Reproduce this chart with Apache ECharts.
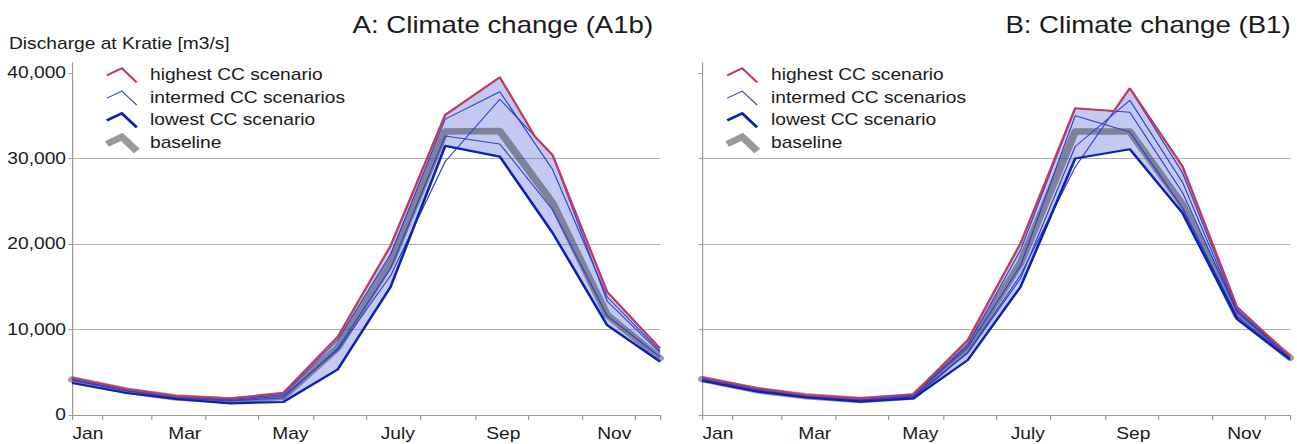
<!DOCTYPE html>
<html>
<head>
<meta charset="utf-8">
<script src="https://cdn.jsdelivr.net/npm/echarts@6/dist/echarts.min.js"></script>
<style>
html,body{margin:0;padding:0;background:#fff;overflow:hidden;}
#c{width:1081px;height:444px;transform:scaleX(1.2);transform-origin:0 0;}
</style>
</head>
<body>
<div id="c"></div>
<script>
// ---------- data ----------
const months = ['Jan','Feb','Mar','Apr','May','Jun','Jul','Aug','Sep','Oct','Nov','Dec'];
const midMonthDay = [14,45,73,104,134,165,195,226,257,287,318,348];   // day of year of each monthly value
const xTickDays = [14,31,59,90,120,151,181,212,243,273,304,334,348];  // month boundaries
const xLabelNames = ['Jan','Mar','May','July','Sep','Nov'];
const xLabelDays = [23,78,138,199,259,322];
const yTicks = [0,10000,20000,30000,40000];

// Panel A: Climate change (A1b)
const aHighest   = [4370,3040,2220,1950,2600,9160,19800,35100,39500,30400,14400,7800];
const aHighestCrossing = [277,32560];
const aIntermed1 = [4200,2900,2100,1800,2400,8800,18800,34600,37800,28700,13800,7500];
const aIntermed2 = [4050,2800,2000,1650,2000,7800,17200,32640,31700,24000,11600,6800];
const aIntermed3 = [4100,2850,2050,1700,2200,7600,16300,29640,36930,30400,13300,7300];
const aLowest    = [3740,2570,1870,1370,1520,5340,15000,31470,30220,21300,10500,6240];
const aBaseline  = [4150,2850,2050,1700,2140,7900,17800,33150,33200,24800,11700,6630];

// Panel B: Climate change (B1)
const bHighest   = [4410,3150,2340,1950,2420,8770,20100,35880,38220,29050,12600,6900];
const bHighestCrossing = [248,35560];
const bIntermed1 = [4300,3050,2250,1850,2300,8200,19300,35880,35400,26000,12000,6700];
const bIntermed2 = [4200,2950,2200,1750,2150,7300,16400,29000,38220,28300,12300,6800];
const bIntermed3 = [4250,3000,2200,1800,2250,7900,17500,35000,33100,24200,11500,6600];
const bIntermed4 = [4150,2900,2150,1700,2100,7250,16000,31400,36800,27200,12100,6750];
const bLowest    = [4010,2750,2070,1560,1950,6430,15000,30000,31080,23600,11200,6500];
const bBaseline  = [4200,2900,2200,1750,2150,7900,17800,33150,33150,24600,11600,6700];

const titles = ['A: Climate change (A1b)','B: Climate change (B1)'];
const yName = 'Discharge at Kratie [m3/s]';
const names = ['highest CC scenario','intermed CC scenarios','lowest CC scenario','baseline'];

// ---------- styles ----------
const FONT = "'Liberation Sans', Arial, sans-serif";
const RED = '#c43a5e', THIN = '#2e40cc', LOW = '#0b22b0';
const BASE = 'rgba(60,60,70,0.5)', FILL = 'rgba(84,101,212,0.35)';
const AX = '#9a9a9a', GRIDC = '#b2b2b2', TXT = '#1a1a1a';

function toPts(vals){ return vals.map((v,i)=>[midMonthDay[i], v]); }
function withCrossing(vals, cross){ return toPts(vals).concat([cross]).sort((a,b)=>a[0]-b[0]); }

function chevron(t){
  const h=t/2, A=[0,7], B=[12.5,0], C=[25,14];
  const nrm=(p,q)=>{const dx=q[0]-p[0],dy=q[1]-p[1],l=Math.hypot(dx,dy);return [-dy/l,dx/l];};
  const n1=nrm(A,B), n2=nrm(B,C);
  let m=[n1[0]+n2[0],n1[1]+n2[1]]; const ml=Math.hypot(m[0],m[1]); m=[m[0]/ml,m[1]/ml];
  const mh=h/(n1[0]*m[0]+n1[1]*m[1]);
  const pts=[[A[0]-h*n1[0],A[1]-h*n1[1]],[B[0]-mh*m[0],B[1]-mh*m[1]],[C[0]-h*n2[0],C[1]-h*n2[1]],
             [C[0]+h*n2[0],C[1]+h*n2[1]],[B[0]+mh*m[0],B[1]+mh*m[1]],[A[0]+h*n1[0],A[1]+h*n1[1]]];
  const xs=pts.map(p=>p[0]), ys=pts.map(p=>p[1]);
  const minX=Math.min(...xs), minY=Math.min(...ys);
  const w=Math.max(...xs)-minX, hh=Math.max(...ys)-minY;
  const path='path://'+pts.map((p,i)=>(i?'L':'M')+(p[0]-minX).toFixed(2)+','+(p[1]-minY).toFixed(2)).join(' ')+'Z';
  return {path,minX,minY,w,h:hh};
}

// ---------- layout ----------
const grids = [
  {left:60, width:490, top:62.7, bottom:29},
  {left:585, width:490, top:62.7, bottom:29}
];
const legendIconX = [89, 606];
const legendTextX = [125, 642.5];
const legendBoxRight = [319, 842];
const rowY = [75, 97.5, 120, 143];
const iconT = [2, 1, 2.5, 6.5];
const iconC = [RED, THIN, LOW, '#999999'];

const option = {
  animation:false,
  backgroundColor:'#fff',
  title:[
    {text:titles[0], right:536.6, top:13, padding:0, textStyle:{fontSize:23, fontWeight:'normal', color:TXT, fontFamily:FONT}},
    {text:titles[1], right:5.4, top:13, padding:0, textStyle:{fontSize:23, fontWeight:'normal', color:TXT, fontFamily:FONT}},
    {text:yName, left:7.5, top:36, padding:0, textStyle:{fontSize:16, fontWeight:'normal', color:TXT, fontFamily:FONT}}
  ],
  grid: grids.map(g=>Object.assign({containLabel:false, outerBoundsMode:'none'}, g)),
  xAxis: [0,1].map(i=>({
    type:'value', gridIndex:i, min:14, max:348,
    axisLine:{show:true, onZero:false, lineStyle:{color:AX, width:1}},
    axisTick:{show:true, length:5, customValues:xTickDays, lineStyle:{color:AX, width:1}},
    axisLabel:{show:true, customValues:xLabelDays, margin:11, fontSize:16, color:TXT, fontFamily:FONT,
      formatter:v=>{let best=0;xLabelDays.forEach((d,k)=>{if(Math.abs(d-v)<Math.abs(xLabelDays[best]-v))best=k;});return xLabelNames[best];}},
    splitLine:{show:false}
  })),
  yAxis: [0,1].map(i=>({
    type:'value', gridIndex:i, min:0, max:41200, interval:10000,
    axisLine:{show:true, lineStyle:{color:AX, width:1}},
    axisTick:{show:true, length:3, customValues:yTicks, lineStyle:{color:AX, width:1}},
    axisLabel:{show:i===0, customValues:yTicks, margin:5, fontSize:16, color:TXT, fontFamily:FONT,
      formatter:v=>Number(v).toLocaleString('en-US')},
    splitLine:{show:true, showMaxLine:false, lineStyle:{color:GRIDC, width:1}}
  })),
  legend: [],
  series: []
};

// legends
[0,1].forEach(p=>{
  names.forEach((nm,r)=>{
    const c = chevron(iconT[r]);
    const iconLeft = legendIconX[p] + c.minX;
    const padT = 1, padB = 1;
    const padL = r===0 ? iconLeft - (grids[p].left + 1.5) : 0;
    const padR = r===0 ? Math.max(0, legendBoxRight[p] - (legendTextX[p] + 146)) : 0;
    option.legend.push({
      data:[{name:nm, icon:c.path}],
      orient:'vertical', selectedMode:false,
      left: iconLeft - padL, top: rowY[r] - c.h/2 - padT,
      itemWidth:c.w, itemHeight:c.h, itemGap:0,
      padding:[padT,padR,padB,padL],
      backgroundColor: r===0 ? '#ffffff' : 'transparent',
      itemStyle:{color:iconC[r], borderWidth:0, opacity:1},
      textStyle:{fontSize:16, color:TXT, fontFamily:FONT, padding:[0,0,0, legendTextX[p] - (iconLeft + c.w + 5)]}
    });
  });
});

function lineSeries(name, pts, idx, color, width, z, extra){
  return Object.assign({
    type:'line', name, data:pts, xAxisIndex:idx, yAxisIndex:idx,
    symbol:'none', showSymbol:false, smooth:false, z, silent:true,
    lineStyle:{color, width}, itemStyle:{color}, emphasis:{disabled:true}
  }, extra||{});
}

function addPanel(idx, highest, crossing, intermeds, lowest, baseline){
  const upper = withCrossing(highest, crossing);
  const lower = toPts(lowest);
  option.series.push({
    type:'custom', name:'band', xAxisIndex:idx, yAxisIndex:idx, z:1, silent:true,
    data:[0],
    renderItem:(params, api)=>{
      const pts = upper.map(p=>api.coord(p)).concat(lower.slice().reverse().map(p=>api.coord(p)));
      return {type:'polygon', shape:{points:pts}, style:{fill:FILL, stroke:'none'}};
    }
  });
  option.series.push(lineSeries(names[3], toPts(baseline), idx, BASE, 6.5, 2, {lineStyle:{color:BASE, width:6.5, cap:'round', join:'round'}}));
  intermeds.forEach(arr=>option.series.push(lineSeries(names[1], toPts(arr), idx, THIN, 1, 3)));
  option.series.push(lineSeries(names[2], lower, idx, LOW, 2.2, 4));
  option.series.push(lineSeries(names[0], upper, idx, RED, 2, 5));
}

addPanel(0, aHighest, aHighestCrossing, [aIntermed1, aIntermed2, aIntermed3], aLowest, aBaseline);
addPanel(1, bHighest, bHighestCrossing, [bIntermed1, bIntermed2, bIntermed3, bIntermed4], bLowest, bBaseline);

const chart = echarts.init(document.getElementById('c'), null, {renderer:'svg'});
chart.setOption(option);
</script>
</body>
</html>
